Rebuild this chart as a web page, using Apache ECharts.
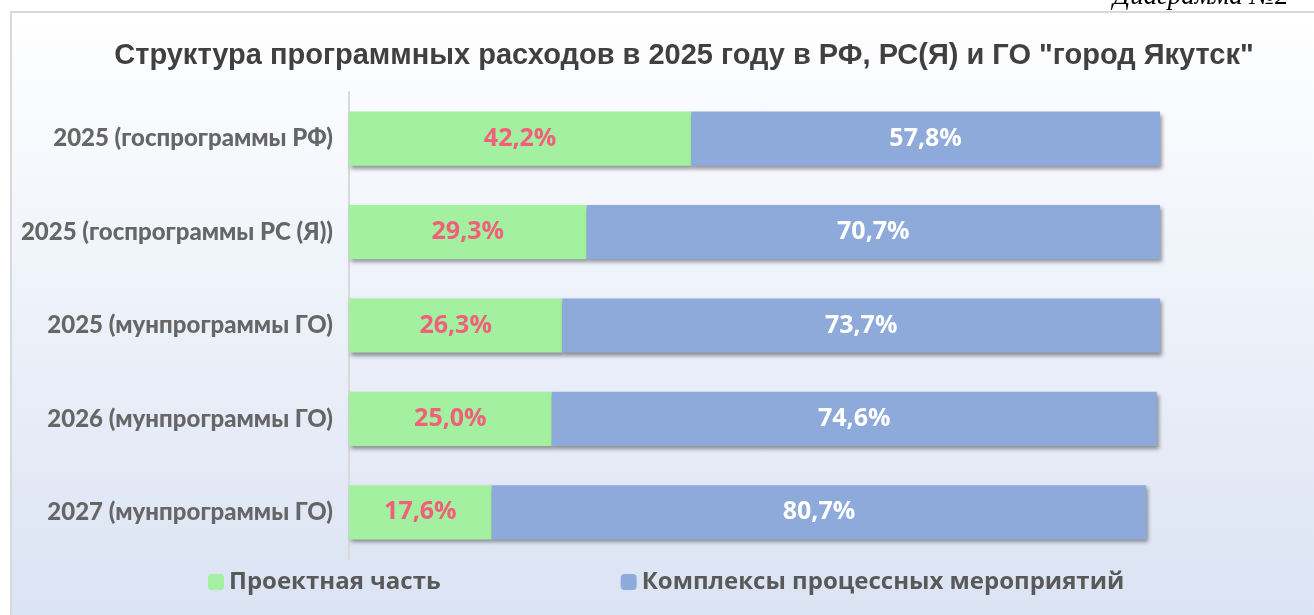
<!DOCTYPE html>
<html>
<head>
<meta charset="utf-8">
<script src="https://cdn.jsdelivr.net/npm/echarts@6/dist/echarts.min.js"></script>
<style>
  html, body { margin: 0; padding: 0; background: #fff; }
  #wrap { position: relative; width: 1314px; height: 615px; overflow: hidden; }
  #box {
    position: absolute; left: 10px; top: 11px; width: 1310px; height: 620px;
    border: 2px solid #d9d9d9; box-sizing: border-box;
    background: linear-gradient(to bottom, #ffffff 0%, #eef2fa 45%, #dae3f3 100%);
  }
  #chart { position: absolute; left: 0; top: 0; width: 1314px; height: 615px; }
</style>
</head>
<body>
<div id="wrap">
  <div id="box"></div>
  <div id="chart"></div>
</div>
<script>
// данные
const categories = [
  '2025 (госпрограммы РФ)',
  '2025 (госпрограммы РС (Я))',
  '2025 (мунпрограммы ГО)',
  '2026 (мунпрограммы ГО)',
  '2027 (мунпрограммы ГО)'
]
const projectPart = [42.2, 29.3, 26.3, 25.0, 17.6]
const processPart = [57.8, 70.7, 73.7, 74.6, 80.7]
const seriesNames = ['Проектная часть', 'Комплексы процессных мероприятий']

const myChart = echarts.init(document.getElementById('chart'))

const fmt = (p) => p.value.toFixed(1).replace('.', ',') + '%'
const barShadow = {
  shadowColor: 'rgba(0,0,0,0.4)',
  shadowBlur: 4,
  shadowOffsetX: 2,
  shadowOffsetY: 3
}

let option = {
  animation: false,
  title: {
    text: 'Структура программных расходов в 2025 году в РФ, РС(Я) и ГО "город Якутск"',
    left: 679,
    textAlign: 'center',
    top: 36,
    textStyle: { fontFamily: 'Liberation Sans', fontSize: 29, fontWeight: 'bold', color: '#404040' }
  },
  graphic: [{
    type: 'text',
    left: 1113,
    top: -17,
    style: { text: 'Диаграмма №2', font: 'italic 27px "Liberation Serif"', fill: '#000' }
  }],
  legend: {
    left: 203,
    top: 565,
    itemWidth: 16,
    itemHeight: 16,
    itemGap: 180,
    data: seriesNames,
    textStyle: { fontFamily: 'Open Sans', fontSize: 24, fontWeight: 'bold', color: '#595959' }
  },
  grid: { left: 349, right: 154, top: 92, bottom: 56, containLabel: false },
  xAxis: {
    type: 'value',
    min: 0,
    max: 100,
    show: false
  },
  yAxis: {
    type: 'category',
    inverse: true,
    data: categories,
    axisTick: { show: false },
    axisLine: { lineStyle: { color: '#d9d9d9', width: 2 } },
    axisLabel: {
      margin: 16,
      fontFamily: 'Lato',
      fontSize: 24,
      fontWeight: 900,
      color: '#666666'
    }
  },
  series: [
    {
      name: seriesNames[0],
      type: 'bar',
      stack: 'total',
      barWidth: '58%',
      data: projectPart,
      itemStyle: Object.assign({ color: '#a3f0a0' }, barShadow),
      label: {
        show: true,
        formatter: fmt,
        fontFamily: 'Open Sans',
        fontSize: 25,
        fontWeight: 'bold',
        color: '#f0607a'
      }
    },
    {
      name: seriesNames[1],
      type: 'bar',
      stack: 'total',
      barWidth: '58%',
      data: processPart,
      itemStyle: Object.assign({ color: '#8eaadb' }, barShadow),
      label: {
        show: true,
        formatter: fmt,
        fontFamily: 'Open Sans',
        fontSize: 25,
        fontWeight: 'bold',
        color: '#ffffff'
      }
    }
  ]
}
option && myChart.setOption(option)
</script>
</body>
</html>
